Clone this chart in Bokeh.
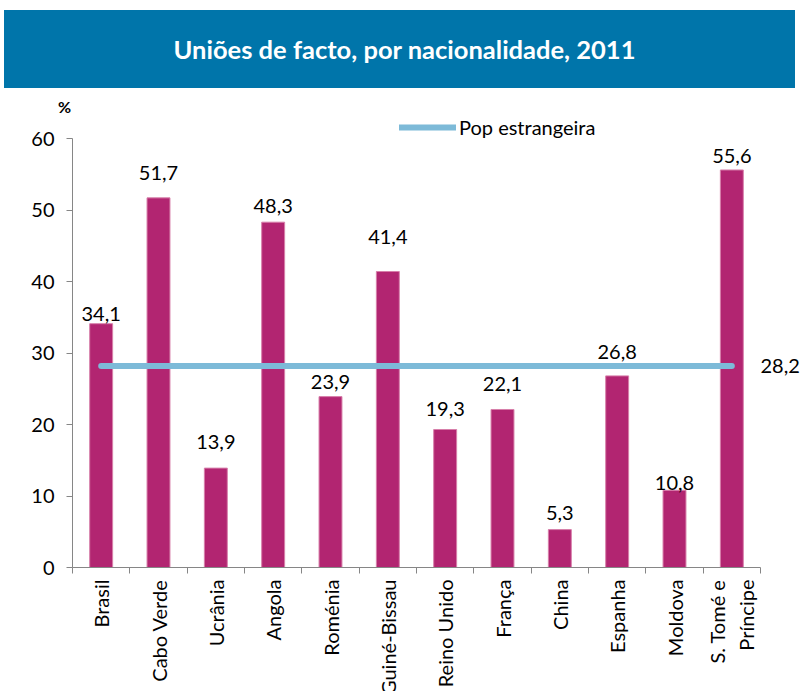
from bokeh.plotting import figure
from bokeh.models import (Range1d, FixedTicker, LabelSet, ColumnDataSource,
                          Legend, LegendItem, Div, LinearAxis)
from bokeh.core.properties import value
from bokeh.layouts import column
from bokeh.embed import file_html
from bokeh.resources import INLINE
import math

# ---- data ----
categories = ["Brasil", "Cabo Verde", "Ucrânia", "Angola", "Roménia", "Guiné-Bissau",
              "Reino Unido", "França", "China", "Espanha", "Moldova", "S. Tomé e\nPríncipe"]
values = [34.1, 51.7, 13.9, 48.3, 23.9, 41.4, 19.3, 22.1, 5.3, 26.8, 10.8, 55.6]
value_labels = ["34,1", "51,7", "13,9", "48,3", "23,9", "41,4", "19,3", "22,1", "5,3", "26,8", "10,8", "55,6"]
pop_estrangeira = [28.2, 28.2, 28.2, 28.2, 28.2, 28.2, 28.2, 28.2, 28.2, 28.2, 28.2, 28.2]
pop_label = "28,2"
y_ticks = [0, 10, 20, 30, 40, 50, 60]
unit_label = "%"
# manual label offsets above bars (as in the original chart)
label_offsets = [1.4, 3.5, 3.6, 2.3, 2.0, 4.8, 2.8, 3.6, 2.3, 3.4, 1.0, 2.0]

TITLE = "Uniões de facto, por nacionalidade, 2011"
FONT = "Lato"
BAR = "#B22571"
LINE = "#7DBAD8"
BLUE = "#0075AA"
FS = "20px"
Y_TOP = 63.5

xs = list(range(len(categories)))
src = ColumnDataSource(dict(x=xs, top=values,
                            ly=[v + o for v, o in zip(values, label_offsets)],
                            lab=value_labels))

p = figure(frame_width=688, frame_height=454, output_backend="svg", toolbar_location=None,
           x_range=Range1d(-0.5, len(categories) - 0.5), y_range=Range1d(0, Y_TOP),
           min_border_left=72, min_border_right=41, min_border_top=0, min_border_bottom=124,
           margin=0)
p.outline_line_color = None
p.grid.grid_line_color = None

p.vbar(x="x", top="top", width=0.4, source=src, fill_color=BAR, line_color="#D77FAA", line_width=1)
r_line = p.line(xs, pop_estrangeira, line_color=LINE, line_width=6, line_cap="round")

p.add_layout(LabelSet(x="x", y="ly", text="lab", source=src, text_align="center",
                      text_baseline="middle", text_font=value(FONT), text_font_size=FS,
                      text_color="black"))

# y axis
ya = p.yaxis[0]
ya.ticker = FixedTicker(ticks=y_ticks)
ya.bounds = (0, 60)
ya.axis_line_color = "#868686"
ya.major_tick_line_color = "#868686"
ya.major_tick_out = 6
ya.major_tick_in = 0
ya.minor_tick_line_color = None
ya.major_label_text_font = FONT
ya.major_label_text_font_size = FS
ya.major_label_text_color = "black"
ya.major_label_standoff = 12

# right-hand value of the foreign-population line
ra = LinearAxis(ticker=FixedTicker(ticks=[pop_estrangeira[-1]]),
                major_label_overrides={pop_estrangeira[-1]: pop_label},
                axis_line_color=None, major_tick_line_color=None, minor_tick_line_color=None,
                major_tick_out=0, major_tick_in=0, major_label_standoff=0,
                major_label_text_font=FONT, major_label_text_font_size=FS,
                major_label_text_color="black")
p.add_layout(ra, "right")

# x axis
xa = p.xaxis[0]
xa.ticker = FixedTicker(ticks=xs, minor_ticks=[i - 0.5 for i in range(len(categories) + 1)])
xa.major_label_overrides = {i: c for i, c in enumerate(categories)}
xa.major_label_orientation = math.pi / 2
xa.axis_line_color = "#868686"
xa.major_tick_line_color = None
xa.minor_tick_line_color = "#868686"
xa.minor_tick_out = 6
xa.minor_tick_in = 0
xa.major_label_text_font = FONT
xa.major_label_text_font_size = FS
xa.major_label_text_color = "black"
xa.major_label_standoff = 6

legend = Legend(items=[LegendItem(label="Pop estrangeira", renderers=[r_line])],
                location=(327, 454 - 14 - 12), orientation="horizontal",
                glyph_width=57, glyph_height=16, label_standoff=3, padding=0, margin=0,
                border_line_color=None, background_fill_alpha=0,
                label_text_font=FONT, label_text_font_size=FS, label_text_color="black")
p.add_layout(legend, "center")

header = Div(text=('<div style="position:relative;width:809px;height:113px;">'
                   '<div style="position:absolute;left:4px;top:10px;width:791px;height:78px;'
                   'padding-left:10px;'
                   'background:' + BLUE + ';color:white;font-family:Lato;font-weight:bold;'
                   'font-size:25.5px;line-height:78px;text-align:center;">' + TITLE + '</div>'
                   '<div style="position:absolute;left:58px;top:98px;font-family:Lato;'
                   'font-weight:bold;font-size:16px;line-height:18px;color:black;">'
                   + unit_label + '</div>'
                   '</div>'),
             width=809, height=113, margin=0)

layout = column(header, p, spacing=0)
open("out.html", "w").write(file_html(layout, INLINE))
